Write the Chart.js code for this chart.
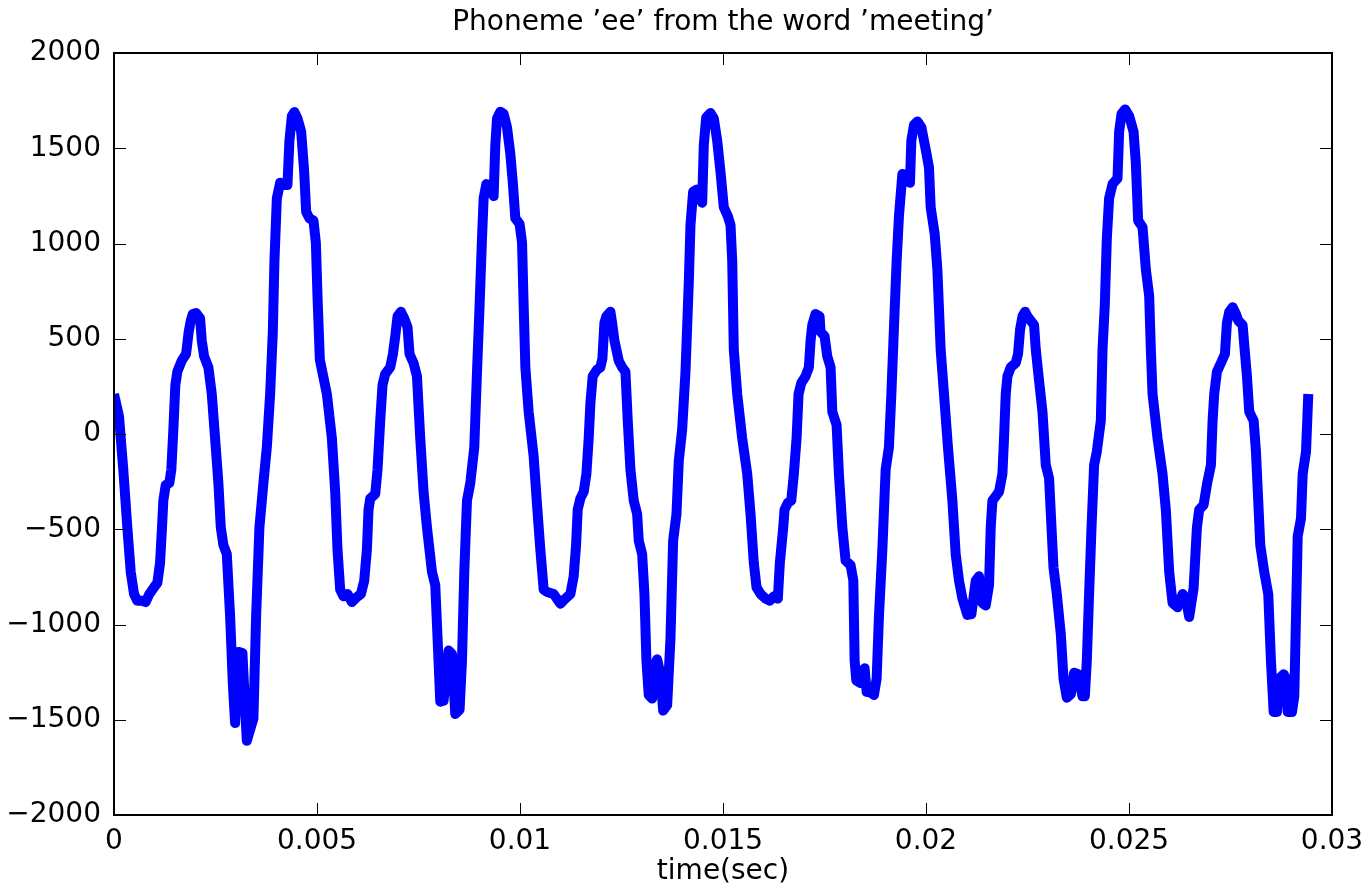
<!DOCTYPE html>
<html>
<head>
<meta charset="utf-8">
<script src="https://cdn.jsdelivr.net/npm/chart.js@4"></script>
<style>
  html, body { margin: 0; padding: 0; background: #fff; }
  #wrap { width: 1368px; height: 886px; position: relative; }
</style>
</head>
<body>
<div id="wrap"><canvas id="chart"></canvas></div>
<script>
// time of each traced vertex, in milliseconds
const timeMs = [
  0, 0.123, 0.229, 0.328, 0.412, 0.493, 0.574, 0.683, 0.781, 0.870, 0.986, 1.067, 1.134, 1.183, 1.215, 1.274,
  1.363, 1.412, 1.462, 1.511, 1.560, 1.669, 1.775, 1.841, 1.891, 1.940, 2.021, 2.120, 2.162, 2.219, 2.325, 2.408,
  2.490, 2.571, 2.630, 2.694, 2.778, 2.860, 2.926, 2.983, 3.064, 3.163, 3.271, 3.434, 3.500, 3.582, 3.680, 3.764,
  3.846, 3.912, 3.952, 4.011, 4.092, 4.191, 4.272, 4.321, 4.381, 4.445, 4.519, 4.610, 4.684, 4.733, 4.814, 4.913,
  4.972, 5.012, 5.070, 5.243, 5.367, 5.448, 5.505, 5.571, 5.652, 5.751, 5.860, 5.966, 6.081, 6.163, 6.229, 6.269,
  6.311, 6.434, 6.491, 6.557, 6.614, 6.680, 6.804, 6.870, 6.927, 6.984, 7.067, 7.149, 7.230, 7.279, 7.378, 7.462,
  7.543, 7.625, 7.708, 7.832, 7.913, 7.970, 8.036, 8.118, 8.241, 8.325, 8.406, 8.512, 8.571, 8.628, 8.694, 8.776,
  8.874, 8.941, 9.005, 9.064, 9.104, 9.170, 9.269, 9.350, 9.392, 9.434, 9.515, 9.597, 9.680, 9.762, 9.828, 9.885,
  9.991, 10.050, 10.090, 10.132, 10.213, 10.336, 10.420, 10.501, 10.583, 10.666, 10.829, 10.994, 11.118, 11.241, 11.322, 11.381,
  11.421, 11.487, 11.569, 11.635, 11.692, 11.734, 11.791, 11.899, 11.980, 12.030, 12.079, 12.128, 12.227, 12.269, 12.326, 12.432,
  12.515, 12.597, 12.654, 12.720, 12.802, 12.885, 12.925, 13.008, 13.065, 13.114, 13.171, 13.255, 13.312, 13.378, 13.459, 13.526,
  13.625, 13.706, 13.772, 13.854, 13.911, 13.994, 14.076, 14.157, 14.199, 14.265, 14.364, 14.487, 14.527, 14.586, 14.692, 14.773,
  14.857, 14.938, 15.020, 15.118, 15.185, 15.227, 15.266, 15.350, 15.473, 15.597, 15.678, 15.759, 15.826, 15.925, 16.048, 16.154,
  16.253, 16.351, 16.400, 16.484, 16.516, 16.597, 16.681, 16.745, 16.812, 16.861, 16.928, 17.034, 17.115, 17.157, 17.199, 17.280,
  17.379, 17.403, 17.502, 17.568, 17.650, 17.692, 17.798, 17.855, 17.939, 18.020, 18.143, 18.210, 18.242, 18.284, 18.390, 18.488,
  18.538, 18.636, 18.718, 18.784, 18.841, 18.925, 19.006, 19.087, 19.147, 19.211, 19.277, 19.334, 19.418, 19.541, 19.605, 19.639,
  19.703, 19.787, 19.886, 19.992, 20.073, 20.115, 20.214, 20.280, 20.361, 20.443, 20.541, 20.650, 20.731, 20.813, 20.897, 21.020,
  21.118, 21.225, 21.306, 21.389, 21.471, 21.552, 21.594, 21.636, 21.676, 21.799, 21.882, 21.922, 21.964, 22.006, 22.087, 22.210,
  22.267, 22.317, 22.376, 22.440, 22.499, 22.580, 22.662, 22.704, 22.785, 22.869, 22.950, 23.032, 23.091, 23.140, 23.222, 23.320,
  23.387, 23.468, 23.567, 23.648, 23.747, 23.855, 23.912, 23.961, 24.017, 24.077, 24.141, 24.207, 24.306, 24.348, 24.404, 24.454,
  24.510, 24.594, 24.717, 24.757, 24.816, 24.905, 25.004, 25.112, 25.168, 25.225, 25.334, 25.415, 25.497, 25.538, 25.580, 25.703,
  25.826, 25.908, 25.990, 26.073, 26.196, 26.320, 26.401, 26.482, 26.591, 26.673, 26.729, 26.837, 26.926, 27.018, 27.059, 27.099,
  27.166, 27.264, 27.363, 27.412, 27.469, 27.553, 27.634, 27.691, 27.799, 27.839, 27.905, 27.962, 28.070, 28.127, 28.183, 28.233,
  28.331, 28.430, 28.496, 28.563, 28.644, 28.701, 28.810, 28.866, 28.908, 29.014, 29.071, 29.113, 29.155, 29.236, 29.278, 29.360,
  29.416
]

// amplitude at each vertex
const amplitude = [
  210, 93, -187, -490, -724, -840, -875, -875, -882, -840, -805, -782, -677, -490, -350, -268,
  -257, -187, 23, 257, 327, 385, 420, 537, 595, 630, 635, 607, 490, 408, 350, 210,
  -23, -257, -490, -583, -630, -957, -1307, -1517, -1144, -1150, -1610, -1494, -957, -490, -257, -70,
  210, 537, 910, 1237, 1319, 1307, 1307, 1540, 1669, 1690, 1657, 1587, 1377, 1167, 1132, 1120,
  1004, 724, 390, 210, -23, -303, -607, -817, -852, -840, -882, -859, -840, -770, -607, -397,
  -338, -315, -187, 70, 257, 315, 350, 420, 513, 618, 642, 607, 560, 420, 373, 303,
  -23, -303, -490, -724, -794, -1074, -1405, -1400, -1137, -1155, -1470, -1447, -1190, -724, -350, -257,
  -70, 327, 677, 1027, 1237, 1312, 1302, 1249, 1517, 1657, 1692, 1680, 1610, 1470, 1307, 1132,
  1102, 1004, 677, 350, 117, -117, -373, -607, -817, -829, -840, -891, -864, -840, -747, -584,
  -397, -338, -303, -210, -23, 163, 303, 338, 350, 397, 583, 618, 642, 583, 490, 385,
  350, 327, 70, -187, -350, -420, -560, -630, -840, -1190, -1370, -1389, -1214, -1183, -1260, -1452,
  -1423, -1074, -560, -420, -140, 23, 327, 794, 1097, 1272, 1284, 1214, 1517, 1662, 1685, 1657,
  1540, 1377, 1190, 1144, 1097, 910, 443, 210, -23, -210, -420, -677, -805, -840, -864, -875,
  -852, -864, -677, -490, -397, -362, -350, -210, -23, 210, 268, 303, 350, 490, 572, 630,
  618, 537, 513, 408, 350, 117, 47, -210, -490, -665, -689, -770, -1190, -1295, -1307, -1230,
  -1354, -1358, -1370, -1284, -957, -607, -187, -70, 210, 560, 910, 1144, 1365, 1354, 1319, 1540,
  1622, 1641, 1610, 1494, 1400, 1190, 1050, 864, 443, 210, -70, -350, -630, -770, -864, -950,
  -945, -770, -747, -887, -900, -794, -490, -350, -338, -303, -210, -23, 210, 303, 350, 373,
  420, 548, 618, 642, 618, 595, 572, 443, 280, 117, -163, -233, -490, -700, -840, -1050,
  -1284, -1384, -1366, -1253, -1261, -1377, -1377, -1190, -840, -490, -163, -93, 70, 443, 677, 1027,
  1237, 1312, 1342, 1587, 1680, 1704, 1669, 1587, 1424, 1120, 1085, 864, 724, 443, 210, -23,
  -210, -400, -724, -887, -910, -840, -864, -960, -810, -490, -397, -373, -257, -163, 70, 210,
  327, 373, 420, 583, 642, 665, 630, 595, 572, 467, 303, 117, 70, -93, -350, -583,
  -724, -840, -1190, -1459, -1459, -1284, -1261, -1284, -1459, -1459, -1377, -957, -537, -443, -210, -93,
  210
]

const xTicks = [0, 0.005, 0.01, 0.015, 0.02, 0.025, 0.03]
const yTicks = [-2000, -1500, -1000, -500, 0, 500, 1000, 1500, 2000]

const points = timeMs.map((t, i) => ({ x: t / 1000, y: amplitude[i] }))

const FONT = "'DejaVu Sans', sans-serif"

// matlab style box with inward ticks on all four sides
const boxPlugin = {
  id: 'matlabBox',
  afterDraw(chart) {
    const { ctx, chartArea: a, scales } = chart
    const len = 12
    ctx.save()
    ctx.strokeStyle = '#000'
    ctx.lineWidth = 1
    ctx.beginPath()
    xTicks.forEach(v => {
      const px = Math.round(scales.x.getPixelForValue(v)) + 0.5
      ctx.moveTo(px, a.bottom); ctx.lineTo(px, a.bottom - len)
      ctx.moveTo(px, a.top); ctx.lineTo(px, a.top + len)
    })
    yTicks.forEach(v => {
      const py = Math.round(scales.y.getPixelForValue(v)) + 0.5
      ctx.moveTo(a.left, py); ctx.lineTo(a.left + len, py)
      ctx.moveTo(a.right, py); ctx.lineTo(a.right - len, py)
    })
    ctx.stroke()
    ctx.lineWidth = 2
    ctx.strokeRect(a.left, a.top, a.right - a.left, a.bottom - a.top)
    ctx.restore()
  }
}

new Chart(document.getElementById('chart'), {
  type: 'line',
  data: {
    datasets: [{
      data: points,
      borderColor: '#0000ff',
      borderWidth: 10,
      borderJoinStyle: 'round',
      borderCapStyle: 'butt',
      pointRadius: 0,
      tension: 0,
      fill: false
    }]
  },
  options: {
    responsive: true,
    maintainAspectRatio: false,
    animation: false,
    devicePixelRatio: 1,
    layout: { padding: { top: 0, right: 36, bottom: 0, left: 0 } },
    plugins: {
      legend: { display: false },
      tooltip: { enabled: false },
      title: {
        display: true,
        fullSize: false,
        text: 'Phoneme ’ee’ from the word ’meeting’',
        color: '#000',
        font: { family: FONT, size: 28, weight: 'normal' },
        padding: { top: 6, bottom: 13.4 }
      }
    },
    scales: {
      x: {
        type: 'linear',
        min: 0,
        max: 0.03,
        afterBuildTicks: s => { s.ticks = xTicks.map(v => ({ value: v })) },
        afterFit: s => { s.height = 71 },
        grid: { display: false },
        border: { display: false },
        ticks: {
          color: '#000',
          padding: 2,
          maxRotation: 0,
          font: { family: FONT, size: 28 },
          callback: v => String(Number(v.toFixed(4)))
        },
        title: {
          display: true,
          text: 'time(sec)',
          color: '#000',
          font: { family: FONT, size: 28, lineHeight: 1 },
          padding: { top: 0, bottom: 0 }
        }
      },
      y: {
        min: -2000,
        max: 2000,
        afterBuildTicks: s => { s.ticks = yTicks.map(v => ({ value: v })) },
        afterFit: s => { s.width = 114 },
        grid: { display: false },
        border: { display: false },
        ticks: {
          color: '#000',
          padding: 5,
          font: { family: FONT, size: 28 },
          callback: v => v < 0 ? '\u2212' + Math.abs(v) : String(v)
        }
      }
    }
  },
  plugins: [boxPlugin]
})
</script>
</body>
</html>
